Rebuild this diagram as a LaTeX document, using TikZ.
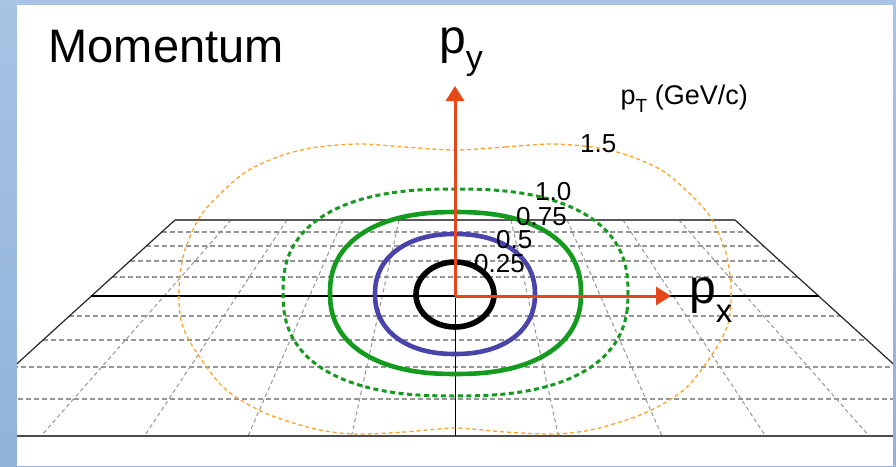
\documentclass[tikz,border=0pt]{standalone}
\usepackage{fontspec}
\setmainfont{Liberation Sans}
\usetikzlibrary{arrows.meta}
\definecolor{bgblue}{RGB}{167,196,228}
\definecolor{bgblue2}{RGB}{145,178,218}
\definecolor{gridgray}{RGB}{150,150,150}
\definecolor{axisred}{RGB}{230,70,25}
\definecolor{cgreen}{RGB}{20,155,30}
\definecolor{cblue}{RGB}{72,68,170}
\definecolor{corange}{RGB}{250,165,40}
\begin{document}
\begin{tikzpicture}[x=1pt,y=-1pt,
  declare function={se(\t,\n)=sign(\t)*pow(abs(\t)+0.000001,2/\n);},
  gridh/.style={gridgray, line width=1.1pt, dash pattern=on 5pt off 3pt},
  gridv/.style={gridgray, line width=1pt, dash pattern=on 4pt off 3pt},
  gridedge/.style={black!85, line width=1.2pt},
  axisarrow/.style={axisred, line width=3pt, -{Triangle[length=15pt,width=18pt]}},
  lbl/.style={inner sep=0pt, anchor=base west, font=\fontsize{26}{30}\selectfont},
  biglbl/.style={inner sep=0pt, anchor=base west, font=\fontsize{48}{50}\selectfont},
]
\useasboundingbox (0,0) rectangle (896,466);
% background panel
\shade[top color=bgblue, bottom color=bgblue2] (0,0) rectangle (896,466);
\fill[bgblue] (0,0) rectangle (896,5);
\fill[white] (17,5) rectangle (893,466);

\begin{scope}
\clip (17,5) rectangle (893,466);
% horizontal dashed grid lines
\foreach \yy in {232,246,261,277,316,340,367,399} {
  \pgfmathsetmacro\ww{280+1.0995*(\yy-220)}
  \draw[gridh] ({455-\ww},\yy) -- ({455+\ww},\yy);
}
% perspective dashed lines
\foreach \k in {-4,-3,-2,-1,1,2,3,4} {
  \draw[gridv] ({455+56*\k},220) -- ({455+103.5*\k},436);
}
% solid frame lines
\draw[gridedge] (175,220) -- ({455-5*103.5},436);
\draw[gridedge] (735,220) -- ({455+5*103.5},436);
\draw[black!65, line width=1.5pt] (175,220) -- (735,220);
\draw[black, line width=1.1pt] (91.4,296) -- (818.6,296);
\draw[black!70, line width=1.5pt] (17,436) -- (893,436);
\draw[black, line width=1pt] (455,220) -- (455,436);

% contours
\draw[corange, line width=1.3pt, dash pattern=on 4pt off 3pt]
  plot[smooth cycle] coordinates {
  (455,150) (505,147) (550,144) (592,147) (627,155) (663,171) (691,195) (711,218) (726,253) (731,288)
  (729,320) (717,347) (686,388) (645,413) (595,429) (555,434) (505,432) (455,428)
  (405,432) (355,434) (315,429) (265,413) (224,388) (193,347) (181,320)
  (179,288) (184,253) (199,218) (219,195) (247,171) (283,155) (318,147) (360,144) (405,147)};
\draw[cgreen, line width=3pt, dash pattern=on 5pt off 3.5pt]
  plot[smooth cycle, domain=0:354, samples=60, variable=\t]
  ({455.5+172.5*se(cos(\t),2.45)},{292.5+103.5*se(sin(\t),2.45)});
\draw[cgreen, line width=4.6pt]
  plot[smooth cycle, domain=0:354, samples=60, variable=\t]
  ({455.5+125.5*se(cos(\t),2.3)},{293+81*se(sin(\t),2.3)});
\draw[cblue, line width=4.6pt]
  plot[smooth cycle, domain=0:354, samples=60, variable=\t]
  ({455+80*se(cos(\t),2.2)},{294+60*se(sin(\t),2.2)});
\draw[black, line width=5.6pt]
  plot[smooth cycle, domain=0:354, samples=60, variable=\t]
  ({455+39*se(cos(\t),2.0)},{294.5+32.5*se(sin(\t),2.0)});
\end{scope}

% axes
\coordinate (O) at (455,296);
\coordinate (ytip) at (455,86);
\coordinate (xtip) at (671,296);
\draw[axisarrow] (O) -- (ytip);
\draw[axisarrow] (O) -- (xtip);

% labels
\node[inner sep=0pt, anchor=base west, font=\fontsize{47}{50}\selectfont] (title) at (48.5,62.5) {Momentum};
\node[biglbl] (py) at (439,53) {p\raisebox{-16pt}{\fontsize{34}{34}\selectfont y}};
\node[biglbl] (px) at (689,303) {p\raisebox{-19pt}{\fontsize{33}{33}\selectfont x}};
\node[lbl, font=\fontsize{27}{30}\selectfont] (pt) at (620.5,104) {p\raisebox{-8pt}{\fontsize{19}{20}\selectfont T} (GeV/c)};
\node[lbl] (c15) at (580,152) {1.5};
\node[lbl] (c10) at (535,200) {1.0};
\node[lbl] (c075) at (516,225) {0.75};
\node[lbl] (c05) at (496,248) {0.5};
\node[lbl] (c025) at (474,272) {0.25};
\end{tikzpicture}
\end{document}
